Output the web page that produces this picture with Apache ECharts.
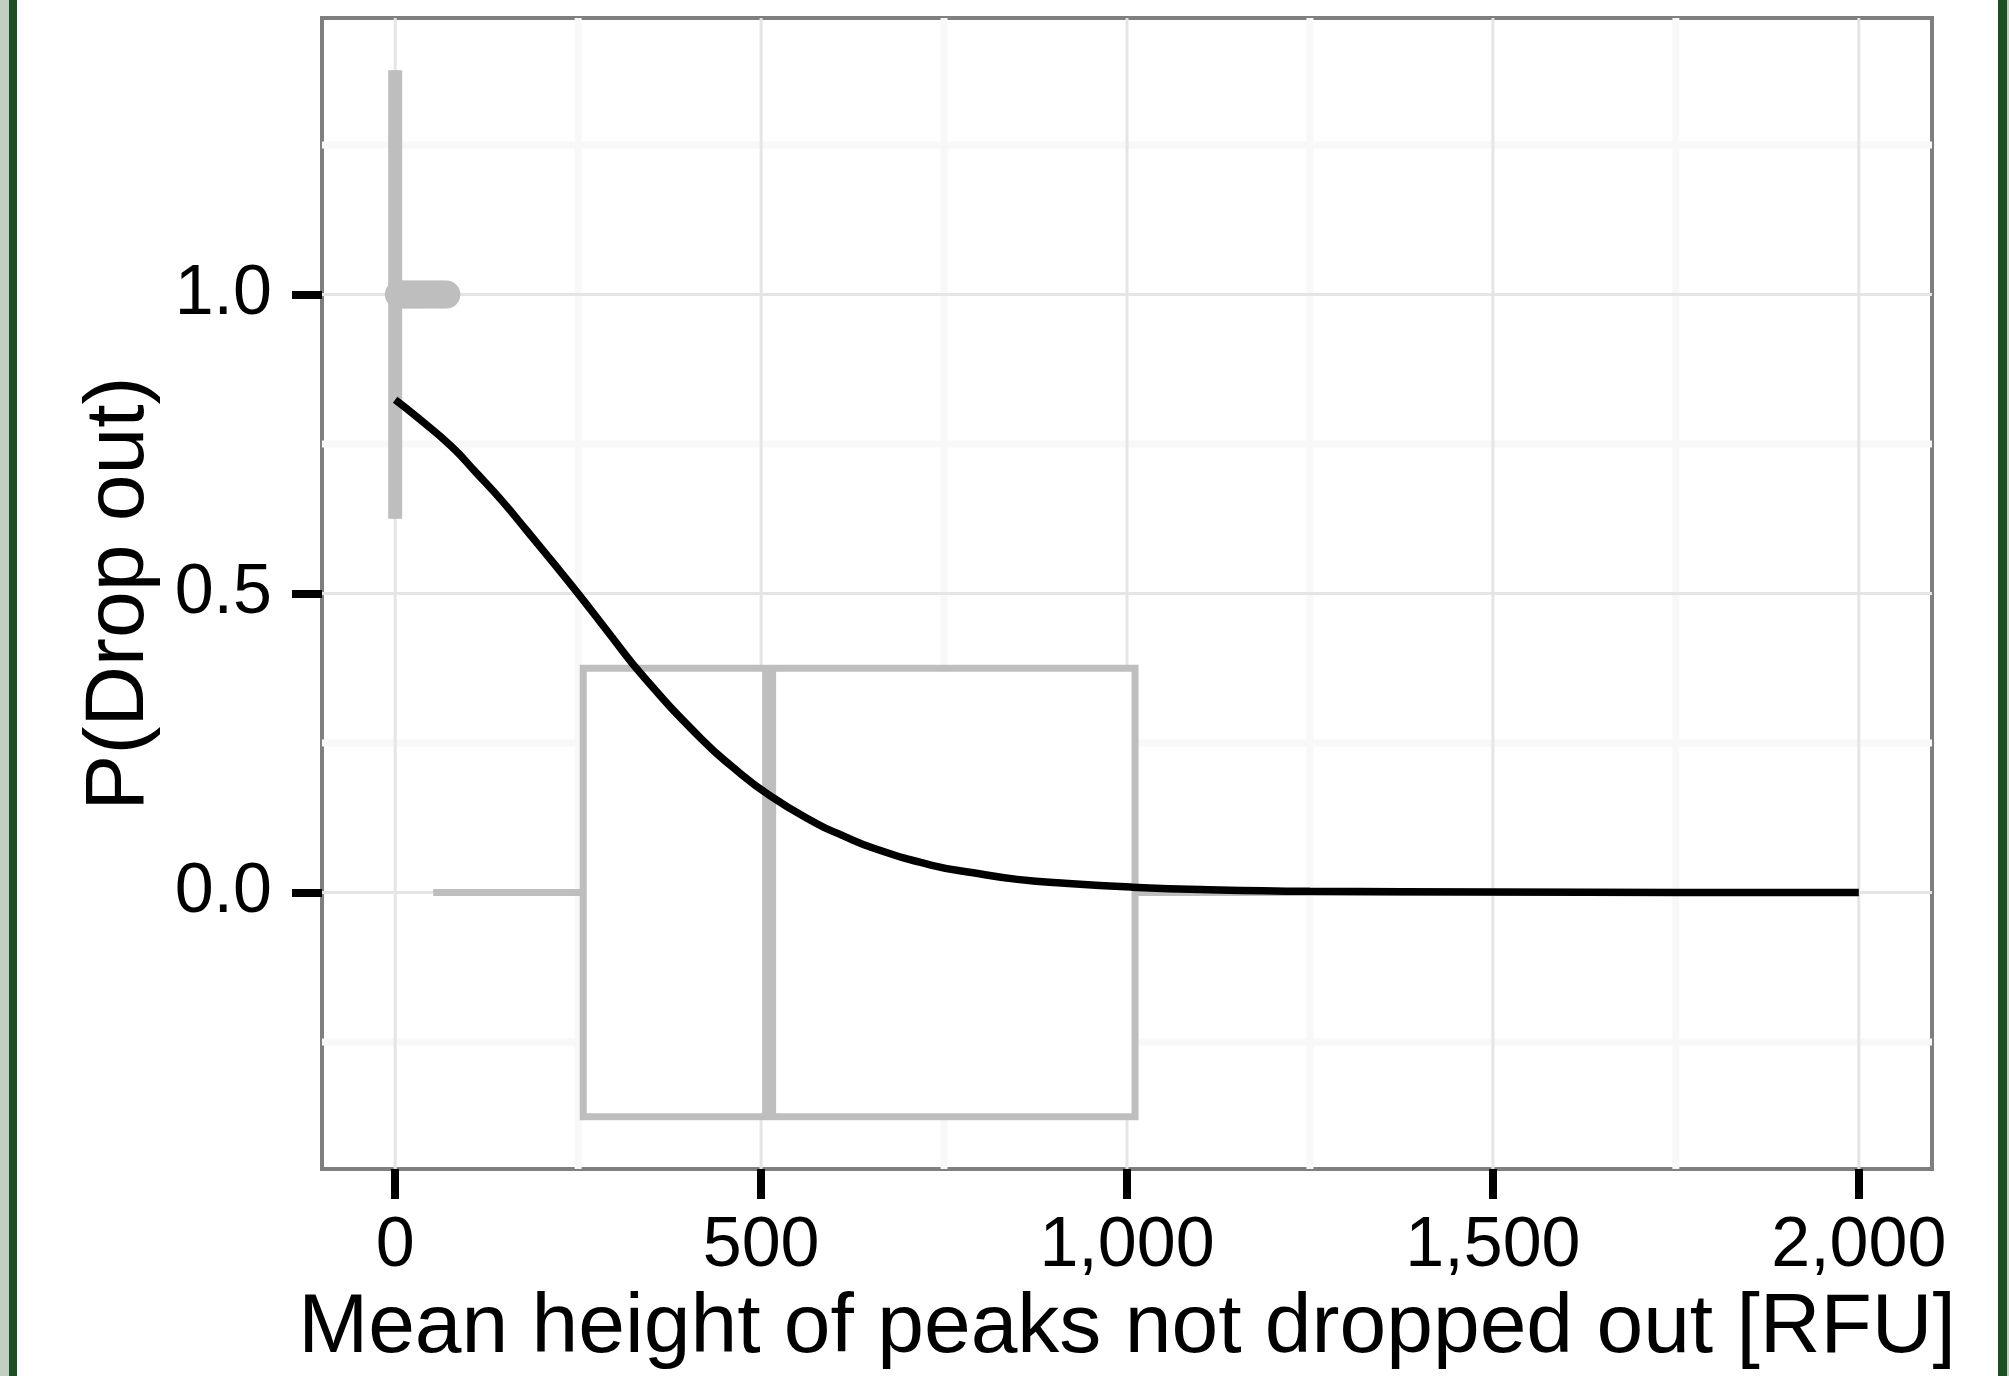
<!DOCTYPE html>
<html>
<head>
<meta charset="utf-8">
<script src="https://cdn.jsdelivr.net/npm/echarts@6/dist/echarts.min.js"></script>
<style>
html, body { margin: 0; padding: 0; background: #fff; }
#main { width: 2009px; height: 1376px; }
</style>
</head>
<body>
<div id="main"></div>
<script>
var chartDom = document.getElementById('main');
var myChart = echarts.init(chartDom);

// fitted drop-out probability
var curveX = [0, 30, 77, 110, 146, 180, 215, 250, 290, 340, 419, 460, 511, 575, 610, 654, 732, 790, 850, 920, 1007, 1100, 1250, 1500, 1750, 2000];
var curveY = [0.824, 0.795, 0.746, 0.703, 0.655, 0.605, 0.553, 0.50, 0.437, 0.360, 0.256, 0.211, 0.163, 0.116, 0.096, 0.074, 0.046, 0.033, 0.022, 0.015, 0.009, 0.005, 0.002, 0.001, 0.0, 0.0];

// boxplots of mean peak height per outcome (0 = not dropped, 1 = dropped out)
var boxOutcome = [0, 1];
var boxLow = [52, 0];
var boxQ1 = [257, 0];
var boxMedian = [511, 0];
var boxQ3 = [1011, 0];
var boxHigh = [1995, 0];
var boxHalfWidth = 0.375;

// outliers of the dropped-out group
var outlierX = [5, 9, 13, 17, 21, 25, 30, 34, 38, 43, 47, 52, 56, 61, 65, 70];
var outlierY = [1, 1, 1, 1, 1, 1, 1, 1, 1, 1, 1, 1, 1, 1, 1, 1];

// axis breaks
var xBreaks = [0, 500, 1000, 1500, 2000];
var xMinor = [250, 750, 1250, 1750];
var yBreaks = [0, 0.5, 1];
var yMinor = [-0.25, 0.25, 0.75, 1.25];

var GREY = '#bebebe';
var FONT = 'Liberation Sans';

function renderGridLine(params, api) { //面板网格线
    var cs = params.coordSys;
    var dir = api.value(0), v = api.value(1), minor = api.value(2);
    var style = { stroke: minor ? '#f8f8f8' : '#e5e5e5', lineWidth: minor ? 7 : 3 };
    var shape;
    if (dir === 0) {
        var x = api.coord([v, 0])[0];
        shape = { x1: x, y1: cs.y, x2: x, y2: cs.y + cs.height };
    } else {
        var y = api.coord([0, v])[1];
        shape = { x1: cs.x, y1: y, x2: cs.x + cs.width, y2: y };
    }
    return { type: 'line', shape: shape, style: style };
}

function renderBox(params, api) { //横向箱线图
    var y = api.value(0);
    var pLo = api.coord([api.value(1), y]);
    var pQ1 = api.coord([api.value(2), y]);
    var pMd = api.coord([api.value(3), y]);
    var pQ3 = api.coord([api.value(4), y]);
    var pHi = api.coord([api.value(5), y]);
    var top = api.coord([0, y + boxHalfWidth])[1];
    var bot = api.coord([0, y - boxHalfWidth])[1];
    var line = { stroke: GREY, lineWidth: 7 };
    return {
        type: 'group',
        children: [
            { type: 'line', shape: { x1: pLo[0], y1: pLo[1], x2: pQ1[0], y2: pQ1[1] }, style: line },
            { type: 'line', shape: { x1: pQ3[0], y1: pQ3[1], x2: pHi[0], y2: pHi[1] }, style: line },
            { type: 'rect', shape: { x: pQ1[0], y: top, width: pQ3[0] - pQ1[0], height: bot - top },
              style: { fill: '#fff', stroke: GREY, lineWidth: 7 } },
            { type: 'line', shape: { x1: pMd[0], y1: top, x2: pMd[0], y2: bot }, style: { stroke: GREY, lineWidth: 14 } }
        ]
    };
}

var gridData = [];
xMinor.forEach(function (v) { gridData.push([0, v, 1]); });
yMinor.forEach(function (v) { gridData.push([1, v, 1]); });
xBreaks.forEach(function (v) { gridData.push([0, v, 0]); });
yBreaks.forEach(function (v) { gridData.push([1, v, 0]); });

var boxData = boxOutcome.map(function (o, i) {
    return [o, boxLow[i], boxQ1[i], boxMedian[i], boxQ3[i], boxHigh[i]];
});

var option = {
    animation: false,
    backgroundColor: '#fff',
    textStyle: { fontFamily: FONT },
    grid: {
        left: 322, top: 18, width: 1610, height: 1152,
        show: true, borderColor: '#7f7f7f', borderWidth: 4, backgroundColor: 'transparent'
    },
    xAxis: {
        type: 'value', min: -100, max: 2100,
        name: 'Mean height of peaks not dropped out [RFU]',
        nameLocation: 'middle', nameGap: 117,
        nameTextStyle: { fontSize: 84, color: '#000', fontFamily: FONT },
        axisLine: { show: false, onZero: false },
        axisTick: { show: true, customValues: xBreaks, length: 30, lineStyle: { color: '#000', width: 8 } },
        axisLabel: {
            customValues: xBreaks, margin: 43, fontSize: 70, color: '#000', fontFamily: FONT,
            formatter: function (v) { return Number(v).toLocaleString('en-US'); }
        },
        splitLine: { show: false }
    },
    yAxis: {
        type: 'value', min: -0.4625, max: 1.4625,
        name: 'P(Drop out)',
        nameLocation: 'middle', nameRotate: 90, nameGap: 160,
        nameTextStyle: { fontSize: 84, color: '#000', fontFamily: FONT },
        axisLine: { show: false, onZero: false },
        axisTick: { show: true, customValues: yBreaks, length: 30, lineStyle: { color: '#000', width: 8 } },
        axisLabel: {
            customValues: yBreaks, margin: 50, fontSize: 70, color: '#000', fontFamily: FONT,
            formatter: function (v) { return Number(v).toFixed(1); }
        },
        splitLine: { show: false }
    },
    series: [
        { type: 'custom', silent: true, z: 1, renderItem: renderGridLine, data: gridData },
        { type: 'custom', silent: true, z: 2, renderItem: renderBox, data: boxData,
          encode: { x: [1, 2, 3, 4, 5], y: 0 } },
        { type: 'scatter', silent: true, z: 3, symbolSize: 28, itemStyle: { color: GREY, opacity: 1 },
          data: outlierX.map(function (x, i) { return [x, outlierY[i]]; }) },
        { type: 'line', silent: true, z: 4, showSymbol: false, smooth: 0.5,
          lineStyle: { color: '#000', width: 7.5 },
          data: curveX.map(function (x, i) { return [x, curveY[i]]; }) }
    ],
    graphic: [
        { type: 'rect', shape: { x: 0, y: 0, width: 9, height: 1376 }, style: { fill: '#c3cec2' } },
        { type: 'rect', shape: { x: 9, y: 0, width: 8, height: 1376 }, style: { fill: '#1c5024' } },
        { type: 'rect', shape: { x: 1998, y: 0, width: 9, height: 1376 }, style: { fill: '#1c5024' } },
        { type: 'rect', shape: { x: 2007, y: 0, width: 2, height: 1376 }, style: { fill: '#c3cec2' } }
    ]
};

option && myChart.setOption(option);
</script>
</body>
</html>
